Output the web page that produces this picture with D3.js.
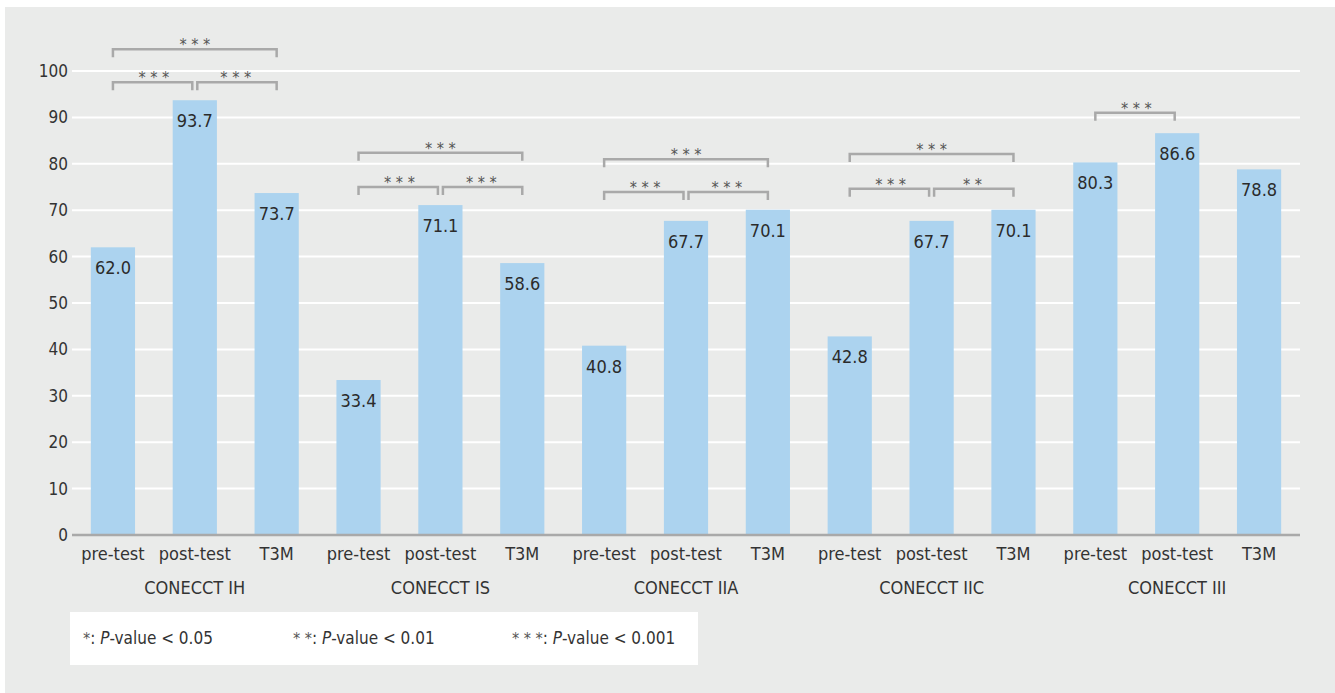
<!DOCTYPE html>
<html>
<head>
<meta charset="utf-8">
<script src="https://cdn.jsdelivr.net/npm/d3@7"></script>
<style>
  body { margin: 0; background: #fff; }
  svg { display: block; font-family: "Liberation Sans Narrow", "DejaVu Sans Condensed", sans-serif; }
</style>
</head>
<body>
<svg id="chart" width="1335" height="693"></svg>
<script>
// data
const groups = ["CONECCT IH", "CONECCT IS", "CONECCT IIA", "CONECCT IIC", "CONECCT III"];
const phases = ["pre-test", "post-test", "T3M"];
const values = [
  [62.0, 93.7, 73.7],
  [33.4, 71.1, 58.6],
  [40.8, 67.7, 70.1],
  [42.8, 67.7, 70.1],
  [80.3, 86.6, 78.8]
];
const yTicks = [0, 10, 20, 30, 40, 50, 60, 70, 80, 90, 100];
// significance brackets: group, from phase, to phase, height (axis units), stars
const brackets = [
  [0, 0, 2, 104.7, "* * *"], [0, 0, 1, 97.6, "* * *"], [0, 1, 2, 97.6, "* * *"],
  [1, 0, 2, 82.4, "* * *"], [1, 0, 1, 75.0, "* * *"], [1, 1, 2, 75.0, "* * *"],
  [2, 0, 2, 81.0, "* * *"], [2, 0, 1, 73.9, "* * *"], [2, 1, 2, 73.9, "* * *"],
  [3, 0, 2, 82.1, "* * *"], [3, 0, 1, 74.6, "* * *"], [3, 1, 2, 74.6, "* *"],
  [4, 0, 1, 91.0, "* * *"]
];
const legendItems = [
  ["*", "0.05"], ["* *", "0.01"], ["* * *", "0.001"]
];

const svg = d3.select("#chart");

// grey panel
svg.append("rect").attr("x", 5).attr("y", 7).attr("width", 1330).attr("height", 686)
  .attr("fill", "#eaebea");

const bars = [];
values.forEach((row, g) => row.forEach((v, p) => bars.push({ g, p, v, id: g + "-" + p })));

const x = d3.scaleBand().domain(bars.map(d => d.id)).range([72, 1300])
  .paddingInner(0.46).paddingOuter(0.23);
const y = d3.scaleLinear().domain([0, 100]).range([535, 71]);
const cx = (g, p) => x(g + "-" + p) + x.bandwidth() / 2;

// gridlines
svg.append("g").selectAll("line").data(yTicks.slice(1)).enter().append("line")
  .attr("x1", 72).attr("x2", 1300)
  .attr("y1", d => y(d)).attr("y2", d => y(d))
  .attr("stroke", "#fff").attr("stroke-width", 2);

// y tick labels
svg.append("g").selectAll("text").data(yTicks).enter().append("text")
  .attr("x", 68).attr("y", d => y(d)).attr("dy", "0.35em")
  .attr("text-anchor", "end").attr("font-size", 17).attr("fill", "#333")
  .text(d => d);

// bars
svg.append("g").selectAll("rect").data(bars).enter().append("rect")
  .attr("x", d => x(d.id)).attr("width", x.bandwidth())
  .attr("y", d => y(d.v)).attr("height", d => y(0) - y(d.v))
  .attr("fill", "#acd3ef");

// value labels
svg.append("g").selectAll("text").data(bars).enter().append("text")
  .attr("x", d => cx(d.g, d.p)).attr("y", d => y(d.v) + 27)
  .attr("text-anchor", "middle").attr("font-size", 18).attr("fill", "#2b2b2b")
  .text(d => d.v.toFixed(1));

// x axis line
svg.append("line").attr("x1", 72).attr("x2", 1300).attr("y1", y(0)).attr("y2", y(0))
  .attr("stroke", "#a9a9a9").attr("stroke-width", 2.5);

// phase labels
svg.append("g").selectAll("text").data(bars).enter().append("text")
  .attr("x", d => cx(d.g, d.p)).attr("y", 560)
  .attr("text-anchor", "middle").attr("font-size", 18).attr("fill", "#333")
  .text(d => phases[d.p]);

// group labels
svg.append("g").selectAll("text").data(groups).enter().append("text")
  .attr("x", (d, i) => cx(i, 1)).attr("y", 594)
  .attr("text-anchor", "middle").attr("font-size", 18).attr("fill", "#333")
  .text(d => d);

// brackets
const br = svg.append("g").selectAll("g").data(brackets).enter().append("g");
br.append("path")
  .attr("d", d => {
    let x1 = cx(d[0], d[1]), x2 = cx(d[0], d[2]);
    if (d[2] - d[1] === 1) {
      if (d[1] === 1) x1 += 2.5; else x2 -= 2.5;
    }
    const yy = y(d[3]);
    return `M${x1},${yy + 8}V${yy}H${x2}V${yy + 8}`;
  })
  .attr("fill", "none").attr("stroke", "#a9a9a9").attr("stroke-width", 2.5);
br.append("text")
  .attr("x", d => (cx(d[0], d[1]) + cx(d[0], d[2])) / 2)
  .attr("y", d => y(d[3]) + 1)
  .attr("text-anchor", "middle").attr("font-size", 16).attr("fill", "#555")
  .text(d => d[4]);

// legend
svg.append("rect").attr("x", 70).attr("y", 612).attr("width", 628).attr("height", 53)
  .attr("fill", "#fff");
const lg = svg.append("g").selectAll("text").data(legendItems).enter().append("text")
  .attr("x", (d, i) => [83, 293, 512][i]).attr("y", 644)
  .attr("font-size", 17).attr("fill", "#333");
lg.append("tspan").attr("font-size", 16).attr("fill", "#555").text(d => d[0]);
lg.append("tspan").text(": ");
lg.append("tspan").attr("font-style", "italic").text("P");
lg.append("tspan").text(d => "-value < " + d[1]);
</script>
</body>
</html>
